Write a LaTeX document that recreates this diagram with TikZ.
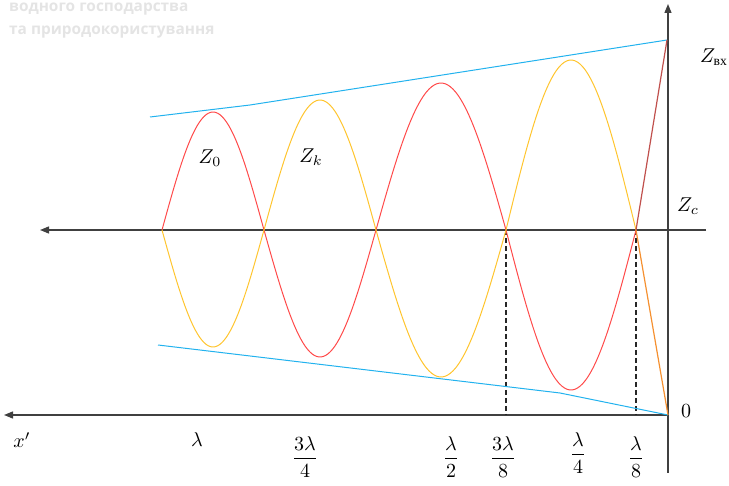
\documentclass[tikz,border=0pt]{standalone}
\usepackage{fontspec}
\usepackage{amsmath}
\usepackage{graphicx}
\usetikzlibrary{arrows.meta}
\newfontfamily\wmfont{Open Sans}
\newfontfamily\cyrserif{Liberation Serif}
\newcommand\bigmath[1]{\scalebox{2.0}{$#1$}}
\definecolor{axisgray}{HTML}{404040}
\definecolor{wavered}{HTML}{FF4A4A}
\definecolor{waveyel}{HTML}{FFC52E}
\definecolor{envblue}{HTML}{22B2EE}
\definecolor{darkred}{HTML}{C0504D}
\definecolor{lineorange}{HTML}{F59030}
\definecolor{wmgray}{HTML}{E4E4E4}
\tikzset{
  axisline/.style={draw=axisgray, line width=1.3pt, -{Triangle[length=9pt,width=7pt]}},
  redwave/.style={draw=wavered, line width=1pt},
  yelwave/.style={draw=waveyel, line width=1pt},
  envelope/.style={draw=envblue, line width=1pt},
  dropline/.style={draw=black!85, line width=1.2pt, dash pattern=on 5pt off 3pt},
  lbl/.style={font=\fontsize{10}{12}\selectfont, inner sep=0pt},
  wm/.style={font=\wmfont\bfseries\fontsize{15.4}{17}\selectfont, text=wmgray, inner sep=0pt, anchor=base west}
}
\begin{document}
\begin{tikzpicture}[x=1pt,y=-1pt]
\useasboundingbox (0,0) rectangle (729,486);
% watermark
\node[wm] (wm1) at (9,12) {водного господарства};
\node[wm] (wm2) at (9,35) {та природокористування};
% named points
\coordinate (vbot) at (668,473);
\coordinate (vtop) at (668,4);
\coordinate (mright) at (706,230);
\coordinate (mleft) at (40,230);
\coordinate (bright) at (668,415);
\coordinate (bleft) at (4,415);
\coordinate (c1) at (506,230);
\coordinate (c2) at (636,230);
\coordinate (f1) at (506,415);
\coordinate (f2) at (636,415);
\coordinate (ztop) at (667,40);
\coordinate (zero) at (668,415);
% axes
\draw[axisline] (vbot) -- (vtop);
\draw[axisline] (mright) -- (mleft);
\draw[axisline] (bright) -- (bleft);
% dashed
\draw[dropline] (c1) -- (f1);
\draw[dropline] (c2) -- (f2);
% envelopes
\draw[envelope] (150,117) -- (250,105) -- (ztop);
\draw[envelope] (158,345) -- (560,393) -- (zero);
% red wave
\draw[redwave] plot[domain=0:1, samples=50, smooth] ({162+102*\x},{230-118*sin(180*\x)});
\draw[redwave] plot[domain=0:1, samples=50, smooth] ({264+112*\x},{230+127*sin(180*\x)});
\draw[redwave] plot[domain=0:1, samples=50, smooth] ({376+130*\x},{230-147*sin(180*\x)});
\draw[redwave] plot[domain=0:1, samples=50, smooth] ({506+130*\x},{230+160*sin(180*\x)});
% yellow wave
\draw[yelwave] plot[domain=0:1, samples=50, smooth] ({162+102*\x},{230+117*sin(180*\x)});
\draw[yelwave] plot[domain=0:1, samples=50, smooth] ({264+112*\x},{230-130*sin(180*\x)});
\draw[yelwave] plot[domain=0:1, samples=50, smooth] ({376+130*\x},{230+147*sin(180*\x)});
\draw[yelwave] plot[domain=0:1, samples=50, smooth] ({506+130*\x},{230-170*sin(180*\x)});
% final straight lines
\draw[draw=darkred, line width=1.2pt] (c2) -- (ztop);
\draw[draw=lineorange, line width=1.2pt] (c2) -- (zero);
% labels
\node[lbl] (lz0) at (210,158) {\bigmath{Z_0}};
\node[lbl] (lzk) at (311,157) {\bigmath{Z_k}};
\node[lbl] (lzin) at (714,57) {\bigmath{Z_{\mbox{\fontsize{6.8}{8}\cyrserif вх}}}};
\node[lbl] (lzc) at (688,206) {\bigmath{Z_c}};
\node[lbl] (l0) at (686,411) {\bigmath{0}};
\node[lbl] (lx) at (22,440) {\bigmath{x'}};
\node[lbl] (llam) at (197,440) {\bigmath{\lambda}};
\node[lbl] (l34) at (305,457) {\bigmath{\dfrac{3\lambda}{4}}};
\node[lbl] (l12) at (451,457) {\bigmath{\dfrac{\lambda}{2}}};
\node[lbl] (l38) at (503,457) {\bigmath{\dfrac{3\lambda}{8}}};
\node[lbl] (l14) at (578,453) {\bigmath{\dfrac{\lambda}{4}}};
\node[lbl] (l18) at (636,457) {\bigmath{\dfrac{\lambda}{8}}};
\end{tikzpicture}
\end{document}
